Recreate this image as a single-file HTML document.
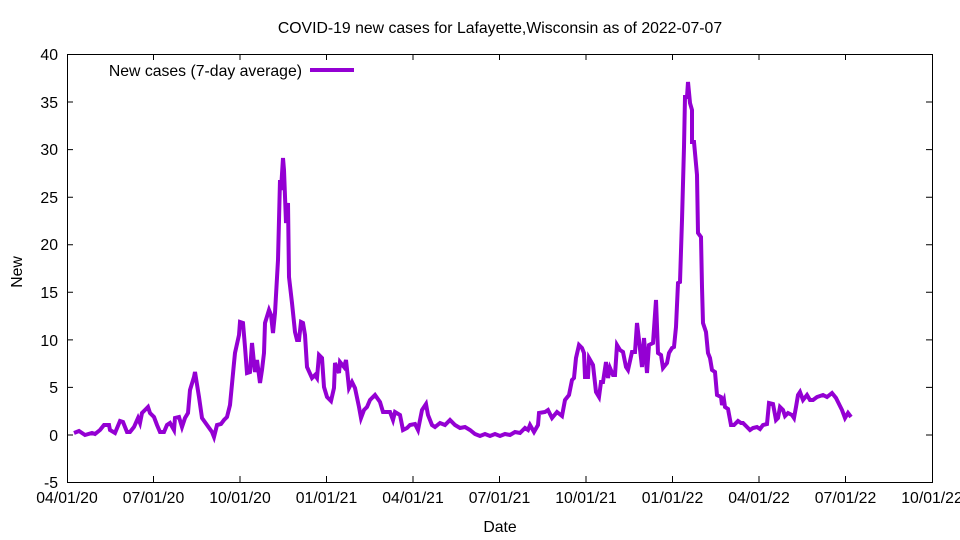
<!DOCTYPE html>
<html><head><meta charset="utf-8"><style>body{margin:0;background:#fff}svg{display:block}text{font-family:"Liberation Sans",sans-serif;font-size:15.8px;fill:#000}</style></head><body>
<svg width="960" height="540" viewBox="0 0 960 540" xmlns="http://www.w3.org/2000/svg">
<text x="500" y="33" text-anchor="middle">COVID-19 new cases for Lafayette,Wisconsin as of 2022-07-07</text>
<g stroke="#000" stroke-width="1" fill="none">
<rect x="67.5" y="54.5" width="865" height="428"/>
<path d="M67 54.5h6M932 54.5h-6M67 102h6M932 102h-6M67 149.6h6M932 149.6h-6M67 197.2h6M932 197.2h-6M67 244.7h6M932 244.7h-6M67 292.3h6M932 292.3h-6M67 339.9h6M932 339.9h-6M67 387.4h6M932 387.4h-6M67 435h6M932 435h-6M67 482.5h6M932 482.5h-6"/>
<path d="M153.5 482v-6M153.5 54v6M240 482v-6M240 54v6M326.5 482v-6M326.5 54v6M413 482v-6M413 54v6M499.5 482v-6M499.5 54v6M586 482v-6M586 54v6M672.5 482v-6M672.5 54v6M759 482v-6M759 54v6M845.5 482v-6M845.5 54v6"/>
</g>
<g text-anchor="end">
<text x="58" y="60">40</text><text x="58" y="108">35</text><text x="58" y="155">30</text><text x="58" y="203">25</text><text x="58" y="250">20</text><text x="58" y="298">15</text><text x="58" y="346">10</text><text x="58" y="393">5</text><text x="58" y="441">0</text><text x="58" y="488">-5</text>
</g>
<g text-anchor="middle">
<text x="67" y="503">04/01/20</text><text x="153.5" y="503">07/01/20</text><text x="240" y="503">10/01/20</text><text x="326.5" y="503">01/01/21</text><text x="413" y="503">04/01/21</text><text x="499.5" y="503">07/01/21</text><text x="586" y="503">10/01/21</text><text x="672.5" y="503">01/01/22</text><text x="759" y="503">04/01/22</text><text x="845.5" y="503">07/01/22</text><text x="932" y="503">10/01/22</text>
<text x="500" y="532">Date</text>
<text transform="translate(22,272) rotate(-90)">New</text>
</g>
<text x="302" y="76" text-anchor="end">New cases (7-day average)</text>
<path d="M310 70h44" stroke="#9400d3" stroke-width="4"/>
<polyline fill="none" stroke="#9400d3" stroke-width="4" stroke-linejoin="miter" points="74,433 79,431 85,435 92,433 95,434 100,430 104,425 109,425 110,430 115,433 120,421 123,422 127,432 130,432 134,427 138,418 140,423 142,413 145,410 148,407 150,413 154,417 157,425 160,432 164,432 167,425 170,423 174,430 175,418 179,417 182,427 185,418 188,413 190,390 194,377 195,372 199,397 202,418 207,425 212,432 214,437 217,425 221,424 224,420 227,417 230,405 234,363 235,353 239,335 240,322 243,323 245,347 247,373 250,372 252,343 254,363 255,372 257,360 260,383 262,370 264,353 265,323 269,310 271,315 273,333 275,313 278,260 280,180 281,190 283,158 284,170 286,223 288,203 289,277 292,303 295,332 297,340 299,340 301,322 303,323 305,335 307,367 312,378 315,375 317,378 319,355 322,358 324,387 327,397 331,401 334,388 335,363 339,373 340,362 344,367 346,360 349,388 352,382 355,388 359,407 361,418 364,410 367,407 370,400 375,395 380,402 383,412 390,412 393,420 395,412 400,415 403,430 407,428 410,425 415,424 418,430 422,410 426,404 428,415 432,425 435,427 440,423 445,425 450,420 455,425 460,428 465,427 470,430 475,434 480,436 485,434 490,436 495,434 500,436 505,434 510,435 515,432 520,433 525,428 528,430 530,425 534,432 538,425 539,413 545,412 548,410 552,418 557,412 562,416 565,400 569,395 572,380 574,378 576,358 579,345 582,348 584,353 585,377 588,377 589,358 593,365 596,392 599,397 601,382 603,382 606,362 608,378 610,368 613,375 615,375 617,345 620,350 623,352 626,367 628,370 632,352 635,352 637,323 639,340 642,367 644,338 647,373 649,345 653,343 656,300 658,353 661,355 663,368 667,363 669,353 672,348 674,347 676,327 678,283 680,282 682,220 684,147 685,97 687,97 688,82 690,103 692,110 692,142 694,142 697,175 698,233 701,237 702,287 703,323 706,332 708,353 710,358 712,370 715,372 717,395 721,397 722,405 724,400 725,407 728,409 731,425 734,425 738,421 741,423 743,423 747,427 750,430 753,428 757,427 760,429 763,425 767,424 769,403 773,404 776,420 778,418 780,407 783,410 785,416 788,413 792,415 794,418 796,407 798,395 800,392 803,400 807,395 810,400 813,400 817,397 823,395 827,397 832,393 836,398 838,402 842,410 845,418 848,413 851,417"/>
</svg>
</body></html>
